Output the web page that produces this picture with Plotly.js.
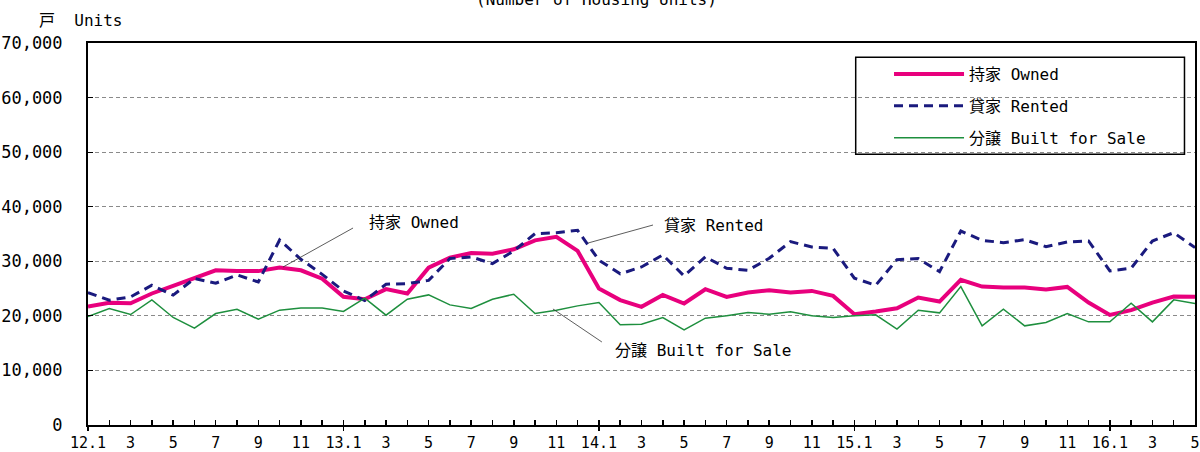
<!DOCTYPE html>
<html>
<head>
<meta charset="utf-8">
<script src="https://cdn.plot.ly/plotly-3.0.1.min.js"></script>
<style>html,body{margin:0;padding:0;background:#fff;}#chart{width:1200px;height:452px;}</style>
</head>
<body>
<div id="chart"></div>
<script>
const months = ["12.1","12.2","12.3","12.4","12.5","12.6","12.7","12.8","12.9","12.10","12.11","12.12",
"13.1","13.2","13.3","13.4","13.5","13.6","13.7","13.8","13.9","13.10","13.11","13.12",
"14.1","14.2","14.3","14.4","14.5","14.6","14.7","14.8","14.9","14.10","14.11","14.12",
"15.1","15.2","15.3","15.4","15.5","15.6","15.7","15.8","15.9","15.10","15.11","15.12",
"16.1","16.2","16.3","16.4","16.5"];

const owned = [21700,22400,22300,24100,25500,27000,28350,28200,28200,28850,28350,26800,
23500,23050,24900,24100,28840,30670,31500,31400,32200,33840,34500,31900,
25000,22900,21650,23840,22260,24880,23480,24270,24700,24270,24570,23660,
20300,20800,21400,23350,22620,26590,25370,25180,25180,24820,25300,22440,
20180,21040,22440,23540,23480];

const rented = [24270,22870,23480,25600,23800,26830,25980,27500,26200,33900,30370,27600,
24570,22800,25800,25900,26500,30500,30800,29570,31900,35060,35240,35670,
30200,27700,28960,31160,27320,30800,28720,28350,30550,33600,32620,32380,
26900,25600,30300,30490,28100,35540,33840,33410,33960,32680,33530,33720,
28230,28720,33720,35240,32500];

const forSale = [19880,21340,20240,22930,19700,17740,20430,21220,19390,21040,21460,21460,
20800,23230,20120,23050,23840,22010,21340,23050,23960,20430,21040,21830,
22440,18350,18480,19700,17440,19570,20000,20610,20300,20730,20000,19700,
20000,20200,17560,21040,20550,25370,18170,21220,18170,18780,20430,18900,
18900,22320,18900,22930,22260];

const seriesNames = ["持家 Owned", "貸家 Rented", "分譲 Built for Sale"];
const yTicks = [0,10000,20000,30000,40000,50000,60000,70000];

const FONT = '"DejaVu Sans Mono", "Noto Sans CJK JP", monospace';
const idx = months.map((m,i)=>i);
const tickText = months.map(m=>{
  const mo = parseInt(m.split('.')[1],10);
  if (mo===1) return m;
  return (mo%2===1) ? String(mo) : '';
});
const yearIdx = idx.filter(i=>months[i].split('.')[1]==='1');

const traces = [
  {x: idx, y: owned, name: seriesNames[0], mode:'lines', legendgroup:'a',
   line:{color:'#E8007D', width:4}},
  {x: idx, y: rented, name: seriesNames[1], mode:'lines', legendgroup:'b',
   line:{color:'#1A1A7E', width:3, dash:'9px,6px'}},
  {x: idx, y: forSale, name: seriesNames[2], mode:'lines', legendgroup:'c',
   line:{color:'#1E8F3E', width:1.5}},
  {x: [idx[0], idx[idx.length-1]], y:[0,0], xaxis:'x2', mode:'lines', line:{width:0},
   showlegend:false, hoverinfo:'skip'}
];

const layout = {
  width:1200, height:452,
  margin:{l:88, r:5, t:43, b:27},
  paper_bgcolor:'#fff', plot_bgcolor:'#fff',
  font:{family:FONT, color:'#000', size:15},
  showlegend:true,
  legend:{x:0.7236, y:0.963, xanchor:'left', yanchor:'top',
    bgcolor:'rgba(0,0,0,0)', borderwidth:0, traceorder:'grouped', tracegroupgap:8,
    font:{family:FONT, size:16, color:'#000'}, itemwidth:70},
  xaxis:{range:[0, months.length-1], tickmode:'array', tickvals: idx, ticktext: tickText,
    ticks:'inside', ticklen:5, tickcolor:'#000', tickwidth:1.5,
    showline:true, linecolor:'#000', linewidth:2, mirror:true,
    showgrid:false, zeroline:false, tickfont:{family:FONT, size:15}, tickangle:0,
    ticklabelstandoff:3},
  xaxis2:{range:[0, months.length-1], overlaying:'x', anchor:'y', side:'bottom',
    tickmode:'array', tickvals: yearIdx, ticktext: yearIdx.map(()=>''),
    ticks:'outside', ticklen:5, tickcolor:'#000', tickwidth:1.5,
    showline:false, showgrid:false, zeroline:false, showticklabels:false},
  yaxis:{range:[0,70000], tickmode:'array', tickvals:yTicks, tickformat:',d',
    ticks:'inside', ticklen:5, tickcolor:'#000',
    showline:true, linecolor:'#000', linewidth:2, mirror:true,
    showgrid:true, gridcolor:'#8a8a8a', gridwidth:1, griddash:'4px,3px',
    zeroline:false, tickfont:{family:FONT, size:17}, ticklabelstandoff:20},
  shapes:[
    {type:'rect', xref:'paper', yref:'paper', x0:0.6935, x1:0.9905, y0:0.709, y1:0.963,
     line:{color:'#000', width:1.5}, fillcolor:'rgba(0,0,0,0)', layer:'above'},
    {type:'line', xref:'x', yref:'y', x0:9.16, y0:28950, x1:12.45, y1:36100, line:{color:'#333', width:0.8}},
    {type:'line', xref:'x', yref:'y', x0:23.49, y0:33350, x1:26.54, y1:36650, line:{color:'#333', width:0.8}},
    {type:'line', xref:'x', yref:'y', x0:21.84, y0:21260, x1:24.14, y1:15210, line:{color:'#333', width:0.8}}
  ],
  annotations:[
    {text:'(Number of Housing Units)', xref:'paper', yref:'paper', x:0.459, y:1.115,
     xanchor:'center', yanchor:'middle', showarrow:false, font:{family:FONT, size:16}},
    {text:'戸  Units', xref:'paper', yref:'paper', x:-0.046, y:1.058,
     xanchor:'left', yanchor:'middle', showarrow:false, font:{family:FONT, size:16}},
    {text:seriesNames[0], xref:'x', yref:'y', x:13.1, y:37020, xanchor:'left', yanchor:'middle',
     showarrow:false, font:{family:FONT, size:16}},
    {text:seriesNames[1], xref:'x', yref:'y', x:26.96, y:36650, xanchor:'left', yanchor:'middle',
     showarrow:false, font:{family:FONT, size:16}},
    {text:seriesNames[2], xref:'x', yref:'y', x:24.66, y:13740, xanchor:'left', yanchor:'middle',
     showarrow:false, font:{family:FONT, size:16}}
  ]
};

Plotly.newPlot('chart', traces, layout, {displayModeBar:false, staticPlot:true});
</script>
</body>
</html>
